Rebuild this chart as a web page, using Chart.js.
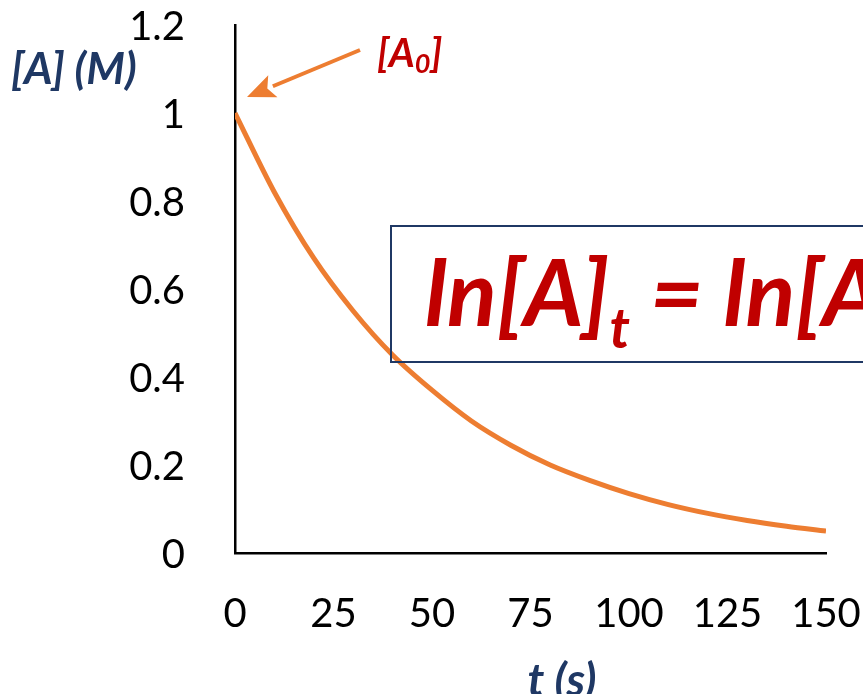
<!DOCTYPE html>
<html>
<head>
<meta charset="utf-8">
<script src="https://cdn.jsdelivr.net/npm/chart.js@4.4.1/dist/chart.umd.min.js"></script>
<style>
  html, body { margin: 0; padding: 0; background: #ffffff; }
  #wrap { width: 863px; height: 694px; position: relative; overflow: hidden; }
</style>
</head>
<body>
<div id="wrap"><canvas id="c" width="863" height="694"></canvas></div>
<script>
// ---- data ----
const timeSeconds = [0, 10, 20, 30, 40, 50, 60, 70, 80, 90, 100, 110, 120, 130, 140, 150];
const concentration = [1.00, 0.82, 0.67, 0.55, 0.45, 0.37, 0.30, 0.245, 0.20, 0.165, 0.135, 0.11, 0.09, 0.074, 0.061, 0.05];
const xTickLabels = ['0', '25', '50', '75', '100', '125', '150'];
const yTickLabels = ['0', '0.2', '0.4', '0.6', '0.8', '1', '1.2'];
const yAxisTitle = '[A] (M)';
const xAxisTitle = 't (s)';
const arrowLabel = ['[A', '0', ']'];
const formulaParts = ['ln[A]', 't', ' = ln[A]', '0', ' \u2212 kt'];

const NAVY = '#1F3864';
const RED = '#C00000';
const ORANGE = '#ED7D31';
const FONT = 'Lato, "Open Sans", sans-serif';

const annotations = {
  id: 'annotations',
  afterDraw(chart) {
    const ctx = chart.ctx;
    ctx.save();
    // y axis title (horizontal)
    ctx.fillStyle = NAVY;
    ctx.font = 'italic bold 44px ' + FONT;
    ctx.textBaseline = 'alphabetic';
    ctx.textAlign = 'left';
    ctx.fillText(yAxisTitle, 11, 84);
    // x axis title
    ctx.font = 'italic bold 46px ' + FONT;
    ctx.textAlign = 'center';
    ctx.fillText(xAxisTitle, 562, 696);

    // arrow pointing to [A0]
    const tip = {x: 247, y: 97}, start = {x: 360, y: 50};
    const dx = start.x - tip.x, dy = start.y - tip.y;
    const len = Math.hypot(dx, dy);
    const ux = dx / len, uy = dy / len;
    const hl = 28, hw = 12;
    const bx = tip.x + ux * hl, by = tip.y + uy * hl;
    ctx.strokeStyle = ORANGE;
    ctx.fillStyle = ORANGE;
    ctx.lineWidth = 4;
    ctx.beginPath();
    ctx.moveTo(start.x, start.y);
    ctx.lineTo(bx, by);
    ctx.stroke();
    ctx.beginPath();
    ctx.moveTo(tip.x, tip.y);
    ctx.lineTo(bx - uy * hw, by + ux * hw);
    ctx.lineTo(tip.x + ux * (hl - 6), tip.y + uy * (hl - 6));
    ctx.lineTo(bx + uy * hw, by - ux * hw);
    ctx.closePath();
    ctx.fill();

    // [A0] label
    ctx.fillStyle = RED;
    ctx.textAlign = 'left';
    let x = 377;
    ctx.font = 'italic bold 40px ' + FONT;
    ctx.fillText(arrowLabel[0], x, 67); x += ctx.measureText(arrowLabel[0]).width;
    ctx.font = 'italic bold 27px ' + FONT;
    ctx.fillText(arrowLabel[1], x, 73); x += ctx.measureText(arrowLabel[1]).width;
    ctx.font = 'italic bold 40px ' + FONT;
    ctx.fillText(arrowLabel[2], x, 67);

    // formula box
    ctx.strokeStyle = NAVY;
    ctx.lineWidth = 2;
    ctx.strokeRect(391, 226, 600, 136);
    ctx.fillStyle = RED;
    x = 425;
    const big = 'italic bold 92px ' + FONT, small = 'italic bold 56px ' + FONT;
    formulaParts.forEach((p, i) => {
      const sub = (i === 1 || i === 3);
      ctx.font = sub ? small : big;
      ctx.fillText(p, x, sub ? 348 : 326);
      x += ctx.measureText(p).width;
    });
    ctx.restore();
  }
};

function noOverflow(s) {
  s.paddingTop = 0; s.paddingBottom = 0; s.paddingLeft = 0; s.paddingRight = 0;
}

new Chart(document.getElementById('c'), {
  type: 'line',
  data: {
    datasets: [{
      data: timeSeconds.map((t, i) => ({x: t, y: concentration[i]})),
      borderColor: ORANGE,
      borderWidth: 5,
      pointRadius: 0,
      fill: false,
      cubicInterpolationMode: 'monotone'
    }]
  },
  options: {
    responsive: false,
    animation: false,
    layout: { padding: { left: 0, top: 25, right: 37, bottom: 0 } },
    plugins: { legend: { display: false }, tooltip: { enabled: false } },
    scales: {
      x: {
        type: 'linear', min: 0, max: 150,
        grid: { display: false },
        border: { color: '#000000', width: 2.5 },
        ticks: {
          stepSize: 25, color: '#000000', padding: 29, maxRotation: 0,
          font: { family: FONT, size: 40 },
          callback: (v) => xTickLabels[Math.round(v / 25)]
        },
        afterFit: (s) => { s.height = 141; noOverflow(s); }
      },
      y: {
        min: 0, max: 1.2,
        grid: { display: false },
        border: { color: '#000000', width: 2.5 },
        ticks: {
          stepSize: 0.2, color: '#000000', padding: 42, labelOffset: 2,
          font: { family: FONT, size: 40 },
          callback: (v) => yTickLabels[Math.round(v / 0.2)]
        },
        afterFit: (s) => { s.width = 235; noOverflow(s); }
      }
    }
  },
  plugins: [annotations]
});
</script>
</body>
</html>
